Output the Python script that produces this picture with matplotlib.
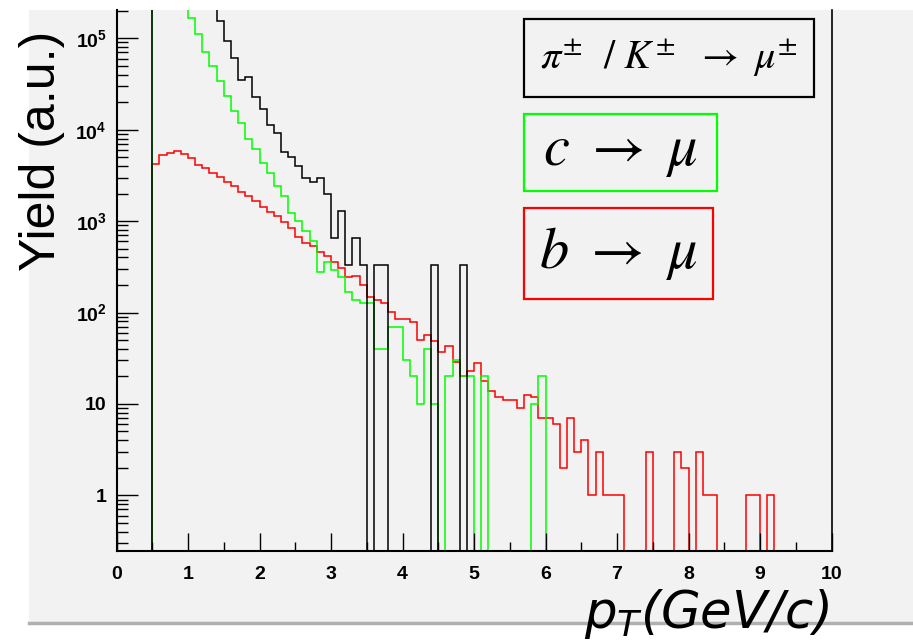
import numpy as np
import matplotlib
matplotlib.use("Agg")
import matplotlib.pyplot as plt
import matplotlib.ticker as plticker
from matplotlib.patches import Rectangle
from matplotlib.lines import Line2D

# binning of the pT histograms (GeV/c)
bin_start = 0.5
bin_width = 0.1

# pi/K -> mu, black; the first bins lie above the frame
yield_pik = [3.0e6, 2.3e6, 1.7e6, 1.3e6, 9.5e5, 7.0e5, 5.0e5, 3.6e5, 2.6e5,
             156000, 93300, 61400, 35000, 37400, 22900, 16700, 11200, 9270,
             5660, 4990, 4010, 2940, 2660, 2940, 1990, 650, 1300, 331, 650,
             331, 0, 331, 331, 0, 0, 0, 0, 0, 0, 331, 0, 0, 0, 331]

# c -> mu, green
yield_charm = [9.5e5, 7.0e5, 5.2e5, 3.8e5, 2.6e5,
               165000, 111000, 71300, 50100, 34100, 23600, 16000, 11900,
               7850, 6200, 4350, 3390, 2400, 1880, 1220, 1010, 780, 611,
               279, 354, 292, 246, 166, 137, 128, 128, 40, 40, 70, 70, 30,
               20, 10, 40, 10, 0, 20, 30, 20, 20, 0, 20, 0, 0, 0, 0, 0, 0,
               10, 20]

# b -> mu, red
yield_beauty = [4220, 5290, 5520, 5850, 5380, 4860, 4110, 3840, 3390, 3060,
                2700, 2440, 2070, 1870, 1680, 1440, 1270, 1140, 979, 835,
                676, 572, 539, 463, 415, 354, 310, 247, 253, 200, 146, 138,
                128, 102, 86, 86, 79, 50, 57, 49, 37, 43, 29, 20, 23, 28,
                18, 14, 12, 11, 11, 9, 12.5, 12, 7, 7, 6, 2, 7, 3, 4, 1, 3,
                1, 1, 1, 0, 0, 0, 3, 0, 0, 0, 3, 2, 0, 3, 1, 1, 0, 0, 0, 0,
                1, 1, 0, 1]

x_ticks = [0, 1, 2, 3, 4, 5, 6, 7, 8, 9, 10]
y_ticks = [1, 10, 100, 1000, 10000, 100000]
y_tick_labels = ['1', '10', r'$10^{2}$', r'$10^{3}$', r'$10^{4}$', r'$10^{5}$']

legend_labels = [r'$\pi^{\pm}\ \ /\ K^{\pm}\ \ \rightarrow\ \mu^{\pm}$',
                 r'$c\ \rightarrow\ \mu$',
                 r'$b\ \rightarrow\ \mu$']
legend_colors = ['black', '#00ff00', '#ff0000']

W, H = 913, 644
plt.rcParams['font.family'] = ['Liberation Sans Narrow', 'Liberation Sans', 'DejaVu Sans']
plt.rcParams['mathtext.fontset'] = 'custom'
plt.rcParams['mathtext.rm'] = 'Liberation Sans:bold'
plt.rcParams['mathtext.it'] = 'Liberation Sans:bold'
plt.rcParams['mathtext.bf'] = 'Liberation Sans:bold'


def fig_box(x0, y0, x1, y1):
    """pixel box (top-left origin) -> figure fraction [left, bottom, w, h]"""
    return [x0 / W, 1 - y1 / H, (x1 - x0) / W, (y1 - y0) / H]


def draw_hist(ax, values, color):
    """draw a ROOT-like outline histogram; empty bins fall to the floor"""
    v = np.array(values, dtype=float)
    v = np.where(v > 0, v, 1e-3)
    edges = bin_start + bin_width * np.arange(len(v) + 1)
    ax.stairs(v, edges, baseline=1e-3, color=color, lw=1.1)


fig = plt.figure(figsize=(W / 100, H / 100), dpi=100)
fig.patch.set_facecolor('white')

# grey canvas of the slide
b = fig_box(29, 10, 913, 623)
fig.add_artist(Rectangle((b[0], b[1]), b[2], b[3], transform=fig.transFigure,
                         facecolor='#f2f2f2', edgecolor='none', zorder=-10))
fig.add_artist(Line2D([29 / W, 1], [1 - 623 / H, 1 - 623 / H], transform=fig.transFigure,
                      color='#b0b0b0', lw=2.5, zorder=-9))

ax = fig.add_axes(fig_box(116.5, 10, 831.5, 551))
ax.set_facecolor('#f2f2f2')

# red and green first, black on top as in the original canvas
draw_hist(ax, yield_beauty, legend_colors[2])
draw_hist(ax, yield_charm, legend_colors[1])
draw_hist(ax, yield_pik, legend_colors[0])

ax.set_yscale('log')
ax.set_xlim(0, 10)
ax.set_ylim(0.246, 2.04e5)

ax.set_xticks(x_ticks)
ax.set_xticklabels([str(t) for t in x_ticks])
ax.xaxis.set_minor_locator(plticker.MultipleLocator(0.5))
ax.yaxis.set_major_locator(plticker.FixedLocator(y_ticks))
ax.set_yticklabels(y_tick_labels)
ax.yaxis.set_minor_locator(plticker.LogLocator(base=10, subs=np.arange(2, 10) * 1.0, numticks=30))
ax.yaxis.set_minor_formatter(plticker.NullFormatter())

ax.tick_params(axis='both', which='both', direction='in', top=False, right=False,
               width=1.0, color='black')
ax.tick_params(axis='y', which='major', length=15, pad=7)
ax.tick_params(axis='y', which='minor', length=8)
ax.tick_params(axis='x', which='major', length=13, pad=11)
ax.tick_params(axis='x', which='minor', length=6.5)
for lab in ax.get_xticklabels() + ax.get_yticklabels():
    lab.set_fontsize(14)
    lab.set_fontweight('bold')

ax.spines['top'].set_visible(False)
ax.spines['left'].set_linewidth(1.5)
ax.spines['bottom'].set_linewidth(1.5)
ax.spines['right'].set_linewidth(1.2)

# legend boxes, drawn as ROOT TPaveText-like frames
boxes = [(524, 19, 814, 97), (524, 114, 717, 191), (524, 208, 713, 299)]
sizes = [29, 42, 42]
for (x0, y0, x1, y1), label, color, size in zip(boxes, legend_labels, legend_colors, sizes):
    b = fig_box(x0, y0, x1, y1)
    fig.add_artist(Rectangle((b[0], b[1]), b[2], b[3], transform=fig.transFigure,
                             fill=False, edgecolor=color, lw=1.6))
    fig.text(b[0] + b[2] / 2, b[1] + b[3] / 2, label, ha='center', va='center',
             fontsize=size, math_fontfamily='stix')

fig.text(42 / W, 1 - 151 / H, 'Yield (a.u.)', rotation=90, ha='center', va='center',
         fontsize=36, family='Liberation Sans')
fig.text(584 / W, 1 - 628 / H, r'$p_T$(GeV/c)', ha='left', va='baseline',
         fontsize=37, family='DejaVu Sans', style='italic', math_fontfamily='dejavusans')

fig.savefig('out.png', dpi=100)
